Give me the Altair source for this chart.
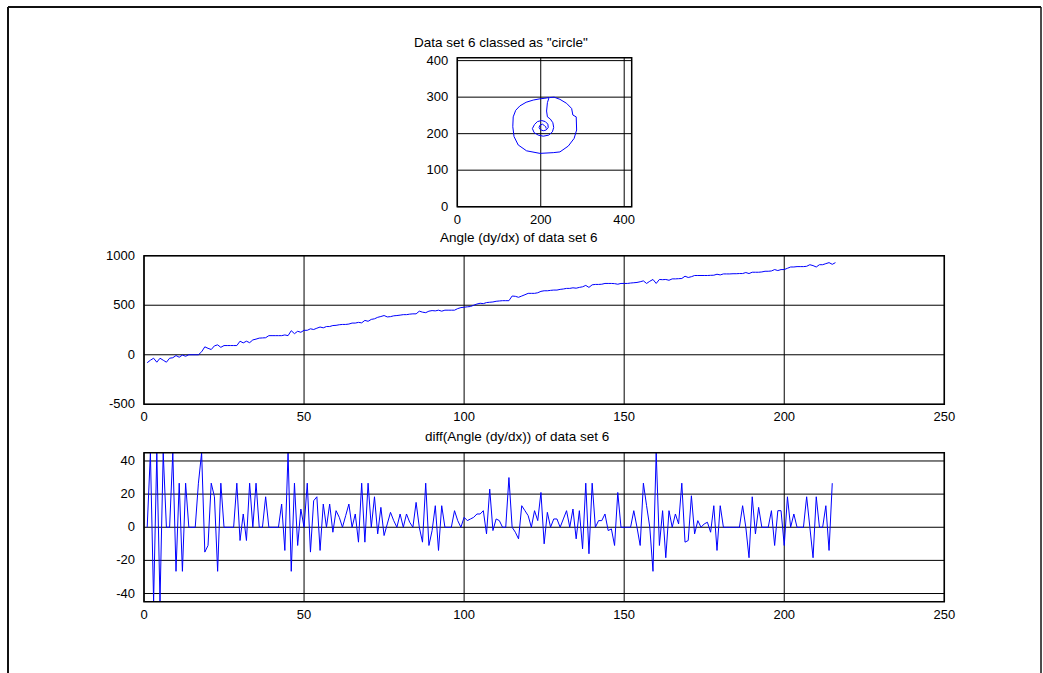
import altair as alt
import pandas as pd

# ---------------- data ----------------
# spiral (data set 6), in path order
spiral_x = [213, 212, 209, 204, 198, 196, 199, 206, 213, 218, 217, 211, 202, 192, 185, 180, 184, 194,
            206, 219, 228, 231, 229, 223, 216, 214, 216, 220, 210, 196, 182, 165, 150, 140, 134, 133,
            136, 146, 166, 198, 230, 246, 266, 280, 286, 285, 277, 274, 262, 246, 232, 222]
spiral_y = [214, 219, 222, 226, 223, 217, 211, 208, 210, 217, 226, 233, 236, 233, 225, 214, 203, 196,
            193, 196, 205, 217, 230, 240, 246, 262, 285, 299, 297, 295, 292, 286, 276, 264, 246, 219,
            192, 169, 153, 146, 148, 150, 166, 187, 210, 246, 251, 269, 283, 294, 300, 299]

# Angle (dy/dx) of data set 6, samples 1..216
angle = [
    -80, -55, -35, -75, -35, -55, -75, -35, -30, -8,
    -25, -3, -15, 0, 0, 0, 0, 30, 80, 65,
    53, 90, 100, 75, 93, 93, 93, 93, 93, 137,
    120, 137, 122, 150, 158, 168, 170, 172, 193, 193,
    193, 193, 193, 200, 193, 243, 213, 237, 227, 247,
    247, 262, 255, 268, 280, 272, 285, 285, 295, 297,
    303, 306, 306, 310, 320, 320, 327, 322, 347, 338,
    357, 363, 378, 386, 396, 382, 385, 393, 396, 400,
    405, 405, 410, 413, 413, 440, 430, 425, 440, 446,
    443, 450, 440, 450, 450, 450, 450, 466, 476, 480,
    484, 487, 500, 512, 520, 516, 527, 530, 533, 540,
    543, 546, 546, 546, 593, 590, 580, 593, 606, 620,
    620, 620, 626, 640, 646, 646, 650, 653, 653, 660,
    664, 670, 670, 676, 672, 680, 686, 700, 680, 706,
    710, 710, 712, 720, 720, 720, 718, 712, 720, 720,
    720, 724, 727, 730, 737, 746, 720, 742, 760, 720,
    760, 758, 760, 752, 766, 766, 768, 770, 793, 780,
    788, 800, 800, 800, 800, 800, 802, 803, 813, 806,
    816, 816, 816, 818, 818, 820, 820, 830, 820, 833,
    833, 833, 836, 843, 843, 846, 860, 850, 860, 860,
    873, 886, 886, 890, 890, 890, 893, 909, 900, 886,
    909, 909, 920, 930, 913, 930,
]

# diff(Angle (dy/dx)) of data set 6, samples 1..215
dangle = [
    0, 45, -45, 45, -45, 45, 0, 0, 45, -26.6,
    26.6, -26.6, 26.6, 0, 0, 0, 26.6, 45, -15, -11,
    26.6, 18.4, -26.6, 26.6, 0, 0, 0, 0, 26.6, -8,
    8, -8, 26.6, 0, 26.6, 0, 0, 18.4, 0, 0,
    0, 0, 14, -14, 45, -26.6, 26.6, -11, 11, 0,
    26.6, -15, 16, 18.4, -14, 14, 0, 14, -3, 10,
    6, 0, 7, 14, 0, 8, -9, 26.6, -9, 26.6,
    0, 18.4, -4, 12, -5, 2, 9, 4, 0, 8,
    0, 8, 3, 0, 15, 0, -9, 26.6, -11, -2,
    13, -14, 13, 0, 0, 0, 10, 4, 0, 6,
    4, 5, 6, 8, 8, 10, -4, 23, -2, 5,
    4, 0, 0, 30, 0, -3, -7, 13, 10, 7,
    0, 10, 4, 21, -10, 9, 0, 5, 5, 0,
    5, 10, 0, 11, -7, 10, -13, 26.6, -16, 26.6,
    0, 4, 4, 8, -2, -1, -11, 21, 0, 0,
    0, 0, 10, 0, -11, 26.6, 13, 0, -26.6, 45,
    -11, 10, -18.4, 10, 0, 8, 2, 26.6, -9, -8,
    19, -4, 4, 0, 2, 3, -3, 13, -14, 13,
    0, 0, 0, 0, 0, 0, 13, 0, -18.4, 18.4,
    -4, 12, 0, 0, 0, 10, -11, 10, 10, -11,
    18.4, 0, 8, 0, 0, 0, 18.4, 0, -18.4, 18.4,
    0, 0, 13, -14, 26.6,
]

# tick values / labels
top_xticks = [0, 200, 400]
top_yticks = [0, 100, 200, 300, 400]
mid_xticks = [0, 50, 100, 150, 200, 250]
mid_yticks = [-500, 0, 500, 1000]
bot_xticks = [0, 50, 100, 150, 200, 250]
bot_yticks = [-40, -20, 0, 20, 40]

titles = ['Data set 6 classed as "circle"',
          'Angle (dy/dx) of data set 6',
          'diff(Angle (dy/dx)) of data set 6']

# ---------------- chart ----------------
FONT = "Liberation Sans"
BLUE = "#0000ff"
one = pd.DataFrame({"a": [0]})


def panel(xdom, xr, ydom, yr, xticks, yticks, line):
    xs = alt.Scale(domain=xdom, range=xr, nice=False, zero=False)
    ys = alt.Scale(domain=ydom, range=yr, nice=False, zero=False)
    gx = pd.DataFrame({"t": xticks, "lab": [str(v) for v in xticks]})
    gy = pd.DataFrame({"t": yticks, "lab": [str(v) for v in yticks]})

    vgrid = alt.Chart(gx).mark_rule(color="black", strokeWidth=1).encode(
        x=alt.X("t:Q", scale=xs, axis=None),
        y=alt.YDatum(ydom[0], scale=ys, axis=None),
        y2=alt.Y2Datum(ydom[1]),
    )
    hgrid = alt.Chart(gy).mark_rule(color="black", strokeWidth=1).encode(
        y=alt.Y("t:Q", scale=ys, axis=None),
        x=alt.XDatum(xdom[0], scale=xs, axis=None),
        x2=alt.X2Datum(xdom[1]),
    )
    box = alt.Chart(one).mark_rect(fillOpacity=0, stroke="black", strokeWidth=1.5).encode(
        x=alt.XDatum(xdom[0], scale=xs, axis=None),
        x2=alt.X2Datum(xdom[1]),
        y=alt.YDatum(ydom[0], scale=ys, axis=None),
        y2=alt.Y2Datum(ydom[1]),
    )
    xlab = alt.Chart(gx).mark_text(baseline="top", dy=7, fontSize=13, font=FONT,
                                   color="black").encode(
        x=alt.X("t:Q", scale=xs, axis=None),
        y=alt.YDatum(ydom[0], scale=ys, axis=None),
        text="lab:N",
    )
    ylab = alt.Chart(gy).mark_text(align="right", baseline="middle", dx=-9, fontSize=13,
                                   font=FONT, color="black").encode(
        y=alt.Y("t:Q", scale=ys, axis=None),
        x=alt.XDatum(xdom[0], scale=xs, axis=None),
        text="lab:N",
    )
    df, xf, yf, of = line
    enc = dict(x=alt.X(f"{xf}:Q", scale=xs, axis=None),
               y=alt.Y(f"{yf}:Q", scale=ys, axis=None))
    if of is not None:
        enc["order"] = alt.Order(f"{of}:Q")
    ln = alt.Chart(df).mark_line(color=BLUE, strokeWidth=1).encode(**enc)
    return alt.layer(vgrid, hgrid, ln, box, xlab, ylab)


spiral_df = pd.DataFrame({"x": spiral_x, "y": spiral_y, "k": list(range(len(spiral_x)))})
angle_df = pd.DataFrame({"i": list(range(1, len(angle) + 1)), "v": angle})
diff_df = pd.DataFrame({"i": list(range(1, len(dangle) + 1)), "v": dangle})

top = panel([0, 418], [457.3, 631.7], [0, 408], [206.7, 57.7],
            top_xticks, top_yticks, (spiral_df, "x", "y", "k"))
mid = panel([0, 250], [144, 944.3], [-500, 1000], [404.3, 255.7],
            mid_xticks, mid_yticks, (angle_df, "i", "v", None))
bot = panel([0, 250], [144, 944.3], [-45, 45], [601.8, 452.7],
            bot_xticks, bot_yticks, (diff_df, "i", "v", None))


def title_mark(txt, x, y):
    return alt.Chart(one).mark_text(align="left", baseline="alphabetic", fontSize=13.5,
                                    font=FONT, color="black").encode(
        x=alt.value(x), y=alt.value(y), text=alt.value(txt))


t1 = title_mark(titles[0], 414, 46.7)
t2 = title_mark(titles[1], 440, 242.3)
t3 = title_mark(titles[2], 425, 440.5)

frame_col = "#111111"
f_top = alt.Chart(one).mark_rule(color=frame_col, strokeWidth=2).encode(
    x=alt.value(8), x2=alt.value(1041), y=alt.value(7))
f_left = alt.Chart(one).mark_rule(color=frame_col, strokeWidth=2).encode(
    x=alt.value(8), y=alt.value(7), y2=alt.value(673))
f_right = alt.Chart(one).mark_rule(color=frame_col, strokeWidth=1.5).encode(
    x=alt.value(1041), y=alt.value(7), y2=alt.value(673))

chart = alt.layer(top, mid, bot, t1, t2, t3, f_top, f_left, f_right).resolve_scale(
    x="independent", y="independent"
).properties(
    width=1043, height=673, autosize=alt.AutoSizeParams(type="none"), padding=0,
    background="white",
).configure_view(stroke=None)

chart.save("out.html", embed_options={"renderer": "svg", "actions": False})
